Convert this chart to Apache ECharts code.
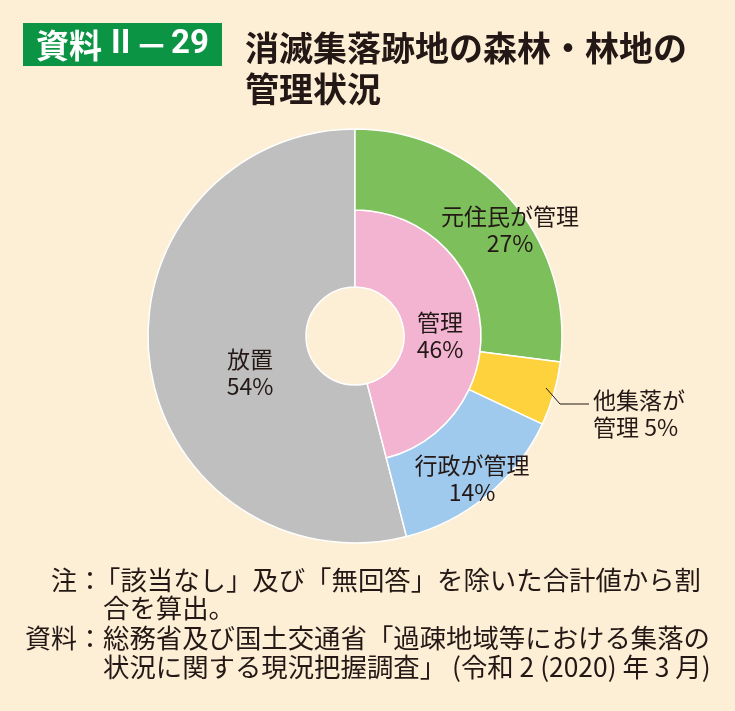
<!DOCTYPE html>
<html>
<head>
<meta charset="utf-8">
<script src="https://cdn.jsdelivr.net/npm/echarts@6/dist/echarts.min.js"></script>
<style>
html,body{margin:0;padding:0;background:#fdefd6;}
#chart{width:735px;height:711px;}
</style>
</head>
<body>
<div id="chart"></div>
<script>
// ---- data ----
const outerNames = ['元住民が管理', '他集落が管理', '行政が管理', '放置'];
const outerValues = [27, 5, 14, 54];
const innerNames = ['管理', '放置'];
const innerValues = [46, 54];
const badgeParts = ['資料', 'II', '－', '29'];
const titleLines = ['消滅集落跡地の森林・林地の', '管理状況'];
const noteLabels = ['注：', '', '資料：', ''];
const noteLines = [
  '「該当なし」及び「無回答」を除いた合計値から割',
  '合を算出。',
  '総務省及び国土交通省「過疎地域等における集落の',
  '状況に関する現況把握調査」 (令和 2 (2020) 年 3 月)'
];

// ---- style ----
const FONT = '"Noto Sans CJK JP", "Noto Sans", sans-serif';
const LATIN = 'Roboto, "Noto Sans CJK JP", sans-serif';
const TEXT = '#231815';
const outerColors = ['#7dc05b', '#fed23c', '#9fcaed', '#bfbfbf'];
const innerColors = ['#f2b4d0', '#bfbfbf'];
const CX = 355, CY = 336, R0 = 49, R1 = 126, R2 = 207;
const HIDDEN = {color: 'rgba(0,0,0,0)', borderWidth: 0};
const BORDER = {borderColor: '#ffffff', borderWidth: 1.5};

const chart = echarts.init(document.getElementById('chart'), null, {renderer: 'canvas'});

const grayData = innerNames.map((n, i) => ({
  name: n, value: innerValues[i],
  itemStyle: i === 1 ? Object.assign({color: innerColors[1]}, BORDER) : HIDDEN
}));
const innerData = innerNames.map((n, i) => ({
  name: n, value: innerValues[i],
  itemStyle: i === 0 ? Object.assign({color: innerColors[0]}, BORDER) : HIDDEN
}));
const outerData = outerNames.map((n, i) => ({
  name: n, value: outerValues[i],
  itemStyle: i < 3 ? Object.assign({color: outerColors[i]}, BORDER) : HIDDEN
}));

function pieSeries(data, r) {
  return {
    type: 'pie', center: [CX, CY], radius: r, startAngle: 90, clockwise: true,
    silent: true, label: {show: false}, labelLine: {show: false},
    emphasis: {disabled: true}, data: data
  };
}

function txt(text, x, y, size, opts) {
  return {
    type: 'text', x: x, y: y, silent: true, z: 100,
    style: Object.assign({
      text: text, fill: TEXT, fontSize: size, fontFamily: FONT,
      textAlign: 'center', textVerticalAlign: 'middle'
    }, opts || {})
  };
}

const LBL = 23;
const W = {fill: '#ffffff', fontWeight: 'bold', textAlign: 'left'};
const graphics = [
  {type: 'rect', shape: {x: 23, y: 23, width: 199, height: 43}, style: {fill: '#0b9444'}, silent: true},
  txt(badgeParts[0], 36, 45, 33, W),
  txt(badgeParts[1], 111, 45, 33, Object.assign({}, W, {fontFamily: LATIN})),
  txt(badgeParts[2], 135, 45, 33, W),
  txt(badgeParts[3], 171, 45, 33, Object.assign({}, W, {fontFamily: LATIN})),
  txt(titleLines[0], 245, 48, 34, {textAlign: 'left', fontWeight: 'bold'}),
  txt(titleLines[1], 245, 89, 34, {textAlign: 'left', fontWeight: 'bold'}),
  // slice labels
  txt(outerNames[0], 510, 216, LBL),
  txt(outerValues[0] + '%', 510, 243, LBL),
  txt(innerNames[0], 440, 322, LBL),
  txt(innerValues[0] + '%', 440, 349, LBL),
  txt(outerNames[3], 250, 359, LBL),
  txt(outerValues[3] + '%', 250, 386, LBL),
  txt(outerNames[2], 472, 465, LBL),
  txt(outerValues[2] + '%', 472, 492, LBL),
  txt(outerNames[1].slice(0, 4), 593, 400, LBL, {textAlign: 'left'}),
  txt(outerNames[1].slice(4) + ' ' + outerValues[1] + '%', 593, 427, LBL, {textAlign: 'left'}),
  {type: 'polyline', shape: {points: [[546, 388], [560, 404], [589, 404]]},
   style: {stroke: TEXT, lineWidth: 1, fill: null}, silent: true, z: 100}
];
const noteY = [580, 608, 638, 667];
const noteX = [94, 103, 103, 103];
noteLines.forEach((l, i) => {
  if (noteLabels[i]) graphics.push(txt(noteLabels[i], 103, noteY[i], 26, {textAlign: 'right'}));
  graphics.push(txt(l, noteX[i], noteY[i], 26.4, {textAlign: 'left'}));
});

chart.setOption({
  backgroundColor: '#fdefd6',
  animation: false,
  series: [
    pieSeries(grayData, [R0, R2]),
    pieSeries(innerData, [R0, R1]),
    pieSeries(outerData, [R1, R2])
  ],
  graphic: graphics
});
</script>
</body>
</html>
